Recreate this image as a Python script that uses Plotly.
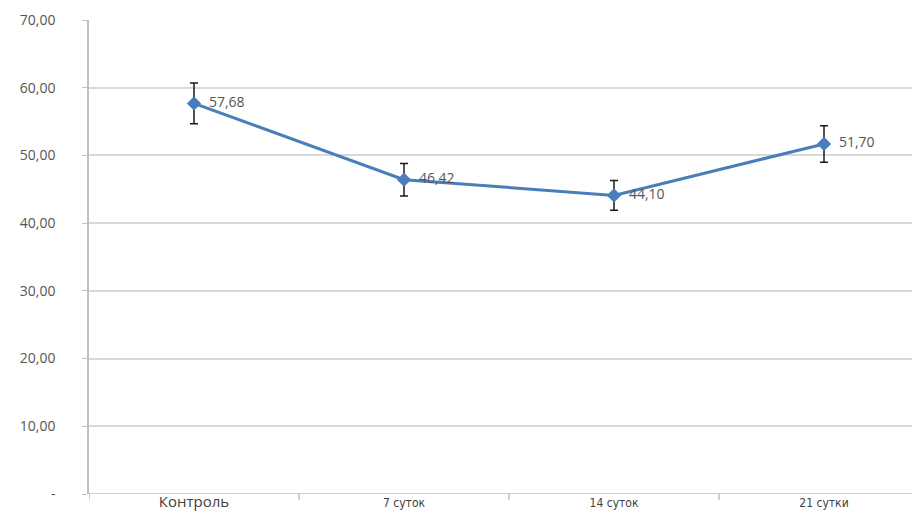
import plotly.graph_objects as go

categories = ["Контроль", "7 суток", "14 суток", "21 сутки"]
values = [57.68, 46.42, 44.10, 51.70]
errors = [3.0, 2.4, 2.2, 2.7]
y_ticks = [0, 10, 20, 30, 40, 50, 60, 70]
y_tick_labels = ["-", "10,00", "20,00", "30,00", "40,00", "50,00", "60,00", "70,00"]

x_idx = list(range(len(categories)))
point_labels = ["\u2002" + f"{v:.2f}".replace(".", ",") for v in values]

# first category label is set larger than the rest
tick_text = [f'<span style="font-size:15px">{categories[0]}</span>'] + [
    f'<span style="font-size:12px;font-family:DejaVu Sans Condensed, DejaVu Sans">{c}</span>'
    for c in categories[1:]
]

fig = go.Figure()
fig.add_trace(go.Scatter(
    x=x_idx, y=values,
    mode="lines+markers+text",
    line=dict(color="#4A7EBB", width=3),
    marker=dict(symbol="diamond", size=11, color="#4A7EBB"),
    error_y=dict(type="data", array=errors, visible=True, color="#1a1a1a", thickness=1.5, width=4),
    text=point_labels,
    textposition="middle right",
    textfont=dict(family="Open Sans", size=14, color="#555555"),
    cliponaxis=False,
    showlegend=False,
))

fig.update_layout(
    width=912, height=530,
    margin=dict(l=89, r=0, t=20, b=36),
    plot_bgcolor="white", paper_bgcolor="white",
    font=dict(family="Open Sans", color="#555555"),
    xaxis=dict(
        tickmode="array", tickvals=x_idx, ticktext=tick_text,
        range=[-0.5, -0.5 + 823 / 210],
        showgrid=False, zeroline=False,
        showline=False, ticks="",
        tickfont=dict(size=12, color="#404040"),
    ),
    yaxis=dict(
        range=[0, 70], tickmode="array", tickvals=y_ticks, ticktext=y_tick_labels,
        showgrid=True, gridcolor="#D9D9D9", gridwidth=1.5,
        zeroline=False, showline=True, linecolor="#BFBFBF", linewidth=1.5,
        ticks="outside", ticklen=5, tickcolor="#BFBFBF",
        ticklabelstandoff=24,
        tickfont=dict(size=14, color="#555555"),
    ),
)

# category divider ticks along the bottom axis
for k in range(len(categories) + 1):
    fig.add_shape(type="line", xref="x", yref="paper",
                  x0=k - 0.5, x1=k - 0.5, y0=0, y1=-0.012,
                  line=dict(color="#BFBFBF", width=1.5))
fig.add_shape(type="line", xref="paper", yref="y", x0=0, x1=1, y0=0, y1=0,
              line=dict(color="#BFBFBF", width=1.5))

fig.write_html("out.html")
